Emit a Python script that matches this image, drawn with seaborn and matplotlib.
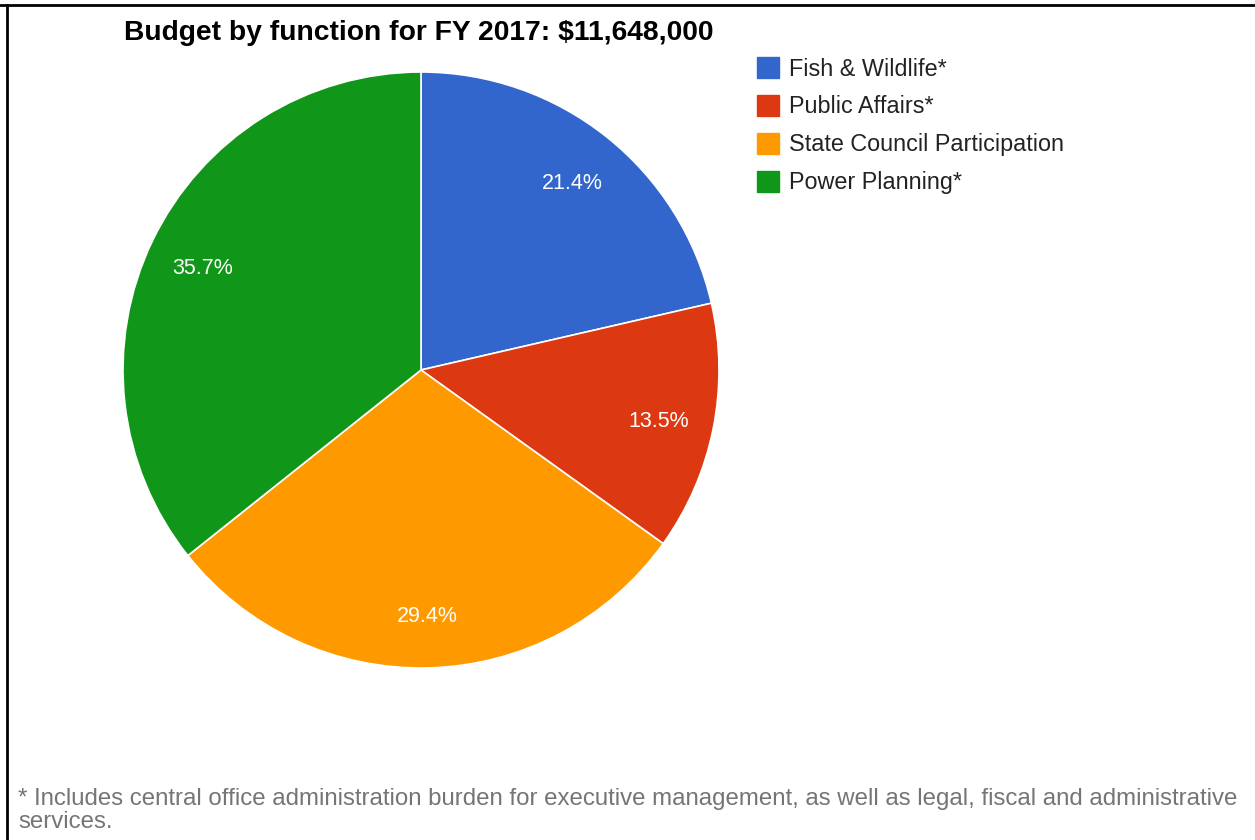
import matplotlib
matplotlib.use("Agg")
import matplotlib.pyplot as plt
import matplotlib.transforms as mtransforms
import seaborn as sns
from matplotlib.patches import Patch
from matplotlib.lines import Line2D

categories = ["Fish & Wildlife*", "Public Affairs*", "State Council Participation", "Power Planning*"]
shares = [21.4, 13.5, 29.4, 35.7]
colors = ["#3366cc", "#dc3912", "#ff9900", "#109618"]
title = "Budget by function for FY 2017: $11,648,000"
footnote = ("* Includes central office administration burden for executive management, as well as legal, fiscal and administrative\n"
            "services.")

sns.set_theme(style="white")
plt.rcParams['font.family'] = ['Liberation Sans', 'DejaVu Sans']

W, H = 1255, 840
fig = plt.figure(figsize=(W / 100, H / 100), dpi=100)
fig.patch.set_facecolor("white")

cx, cy, r = 421, 370, 298
ax = fig.add_axes([(cx - r) / W, (H - cy - r) / H, 2 * r / W, 2 * r / H])
palette = sns.color_palette(colors)
wedges, texts, autotexts = ax.pie(
    shares, colors=palette, startangle=90, counterclock=False,
    autopct="%.1f%%", pctdistance=0.815,
    wedgeprops=dict(edgecolor="white", linewidth=1.2),
    textprops=dict(color="white", fontsize=15.5))
shift = mtransforms.ScaledTranslation(0, -4 / 100, fig.dpi_scale_trans)
for t in autotexts:
    t.set_transform(t.get_transform() + shift)
ax.set_xlim(-1, 1)
ax.set_ylim(-1, 1)
ax.set_aspect("equal")
ax.axis("off")

fig.text(124 / W, 1 - 33 / H, title, fontsize=20.3, fontweight="bold",
         color="black", ha="left", va="center")

handles = [Patch(facecolor=c, edgecolor=c) for c in palette]
leg = fig.legend(handles, categories, loc="upper left",
                 bbox_to_anchor=(747.5 / W, 1 - 48 / H), frameon=False,
                 fontsize=16.8, handlelength=0.97, handleheight=0.97,
                 handletextpad=0.42, labelspacing=0.63, borderaxespad=0)
for t in leg.get_texts():
    t.set_color("#222222")

fig.text(18 / W, 1 - 810.5 / H, footnote, fontsize=17.25, color="#757575",
         ha="left", va="center", linespacing=1.06)

fig.add_artist(Line2D([0, 1], [1 - 5 / H, 1 - 5 / H], color="black", linewidth=2,
                      transform=fig.transFigure))
fig.add_artist(Line2D([6.5 / W, 6.5 / W], [0, 1 - 5 / H], color="black", linewidth=2,
                      transform=fig.transFigure))

fig.savefig("out.png", dpi=100)
